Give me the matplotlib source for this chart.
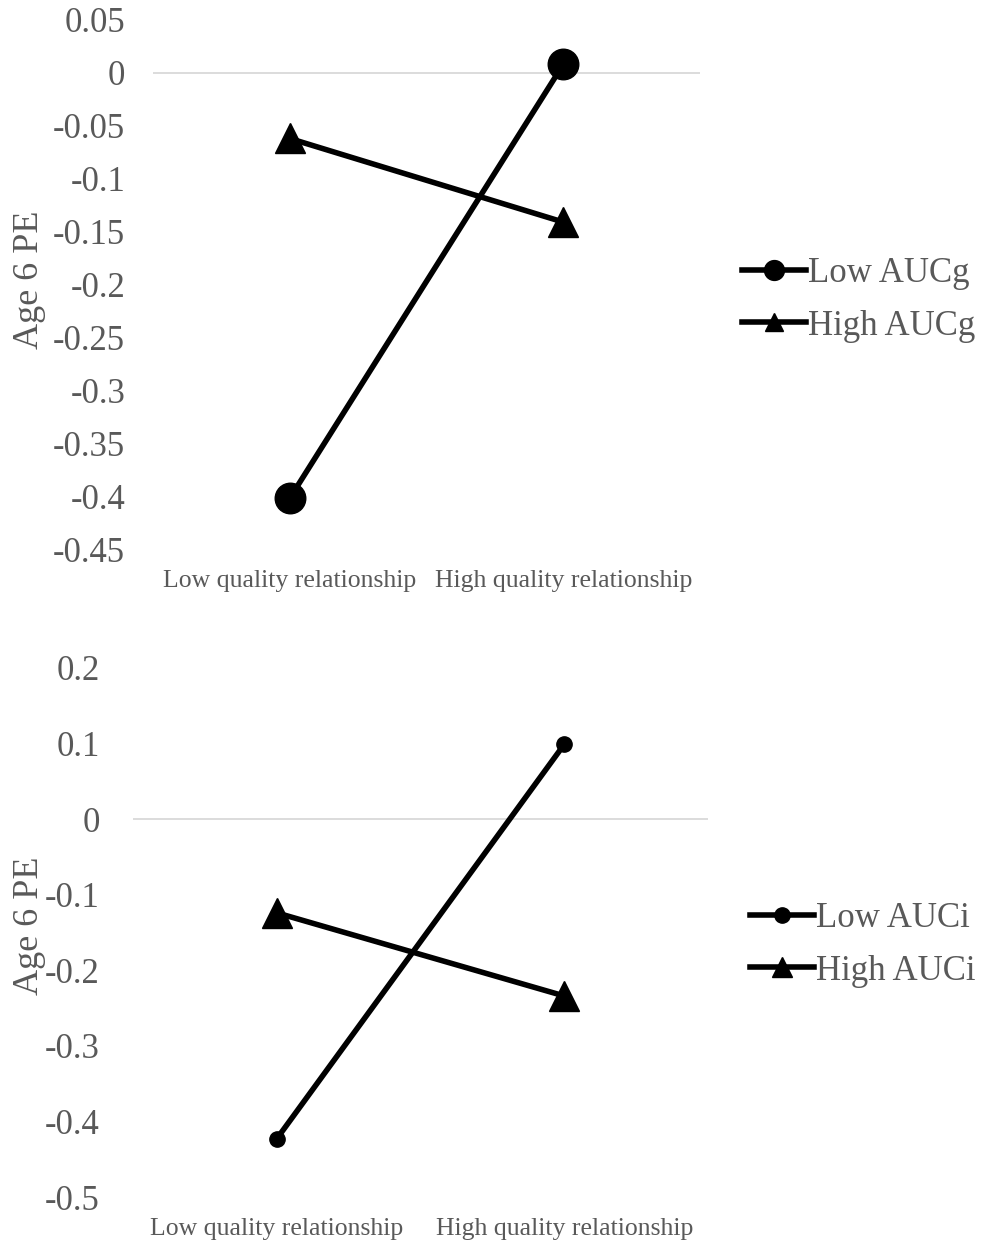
import matplotlib
matplotlib.use("Agg")
import matplotlib.pyplot as plt

plt.rcParams['font.family'] = ['Liberation Serif', 'DejaVu Serif']

categories = ["Low quality relationship", "High quality relationship"]

top_series = ["Low AUCg", "High AUCg"]
top_low_aucg = [-0.402, 0.008]
top_high_aucg = [-0.062, -0.141]
top_yticks = [0.05, 0, -0.05, -0.1, -0.15, -0.2, -0.25, -0.3, -0.35, -0.4, -0.45]
top_yticklabels = ["0.05", "0", "-0.05", "-0.1", "-0.15", "-0.2", "-0.25", "-0.3", "-0.35", "-0.4", "-0.45"]

bot_series = ["Low AUCi", "High AUCi"]
bot_low_auci = [-0.423, 0.099]
bot_high_auci = [-0.124, -0.234]
bot_yticks = [0.2, 0.1, 0, -0.1, -0.2, -0.3, -0.4, -0.5]
bot_yticklabels = ["0.2", "0.1", "0", "-0.1", "-0.2", "-0.3", "-0.4", "-0.5"]

W, H = 984, 1243
fig = plt.figure(figsize=(W / 100, H / 100), dpi=100)
GRAY = "#595959"
GRID = "#d9d9d9"
LW = 4.0


def make_axes(left, right, ytop, ybot):
    return fig.add_axes([left / W, 1 - ybot / H, (right - left) / W, (ybot - ytop) / H])


def style(ax, yticks, ylabels, ylim, ypad, xpad):
    ax.set_xlim(-0.5, 1.5)
    ax.set_ylim(*ylim)
    for s in ax.spines.values():
        s.set_visible(False)
    ax.axhline(0, color=GRID, lw=1.3, zorder=0)
    ax.set_yticks(yticks)
    ax.set_yticklabels(ylabels)
    ax.set_xticks([0, 1])
    ax.set_xticklabels(categories)
    ax.tick_params(axis='y', length=0, pad=ypad, labelsize=25, labelcolor=GRAY)
    ax.tick_params(axis='x', length=0, pad=xpad, labelsize=18.5, labelcolor=GRAY)


# Top chart
ax1 = make_axes(153, 700, 20, 549)
ax1.plot([0, 1], top_low_aucg, color='black', lw=LW, marker='o', ms=22,
         label=top_series[0], zorder=3)
ax1.plot([0, 1], top_high_aucg, color='black', lw=LW, marker='^', ms=21,
         label=top_series[1], zorder=3)
style(ax1, top_yticks, top_yticklabels, (-0.45, 0.05), 20, 15)
fig.text(29 / W, 1 - 280 / H, "Age 6 PE", rotation=90, ha='center', va='center',
         fontsize=26, color=GRAY)
leg1 = ax1.legend(loc='center left', bbox_to_anchor=(742 / W, 1 - 300 / H),
                  bbox_transform=fig.transFigure, frameon=False, fontsize=25,
                  labelcolor=GRAY, handlelength=1.85, handletextpad=0.05,
                  borderpad=0, borderaxespad=0, labelspacing=0.55, markerscale=0.65)

# Bottom chart
ax2 = make_axes(133, 708, 668, 1197)
ax2.plot([0, 1], bot_low_auci, color='black', lw=LW, marker='o', ms=11,
         label=bot_series[0], zorder=3)
ax2.plot([0, 1], bot_high_auci, color='black', lw=LW, marker='^', ms=21,
         label=bot_series[1], zorder=3)
style(ax2, bot_yticks, bot_yticklabels, (-0.5, 0.2), 24, 15)
fig.text(29 / W, 1 - 926 / H, "Age 6 PE", rotation=90, ha='center', va='center',
         fontsize=26, color=GRAY)
leg2 = ax2.legend(loc='center left', bbox_to_anchor=(750 / W, 1 - 945 / H),
                  bbox_transform=fig.transFigure, frameon=False, fontsize=25,
                  labelcolor=GRAY, handlelength=1.85, handletextpad=0.05,
                  borderpad=0, borderaxespad=0, labelspacing=0.55)
for h in leg2.legend_handles:
    if h.get_marker() == '^':
        h.set_markersize(14)

fig.savefig("out.png", dpi=100)
